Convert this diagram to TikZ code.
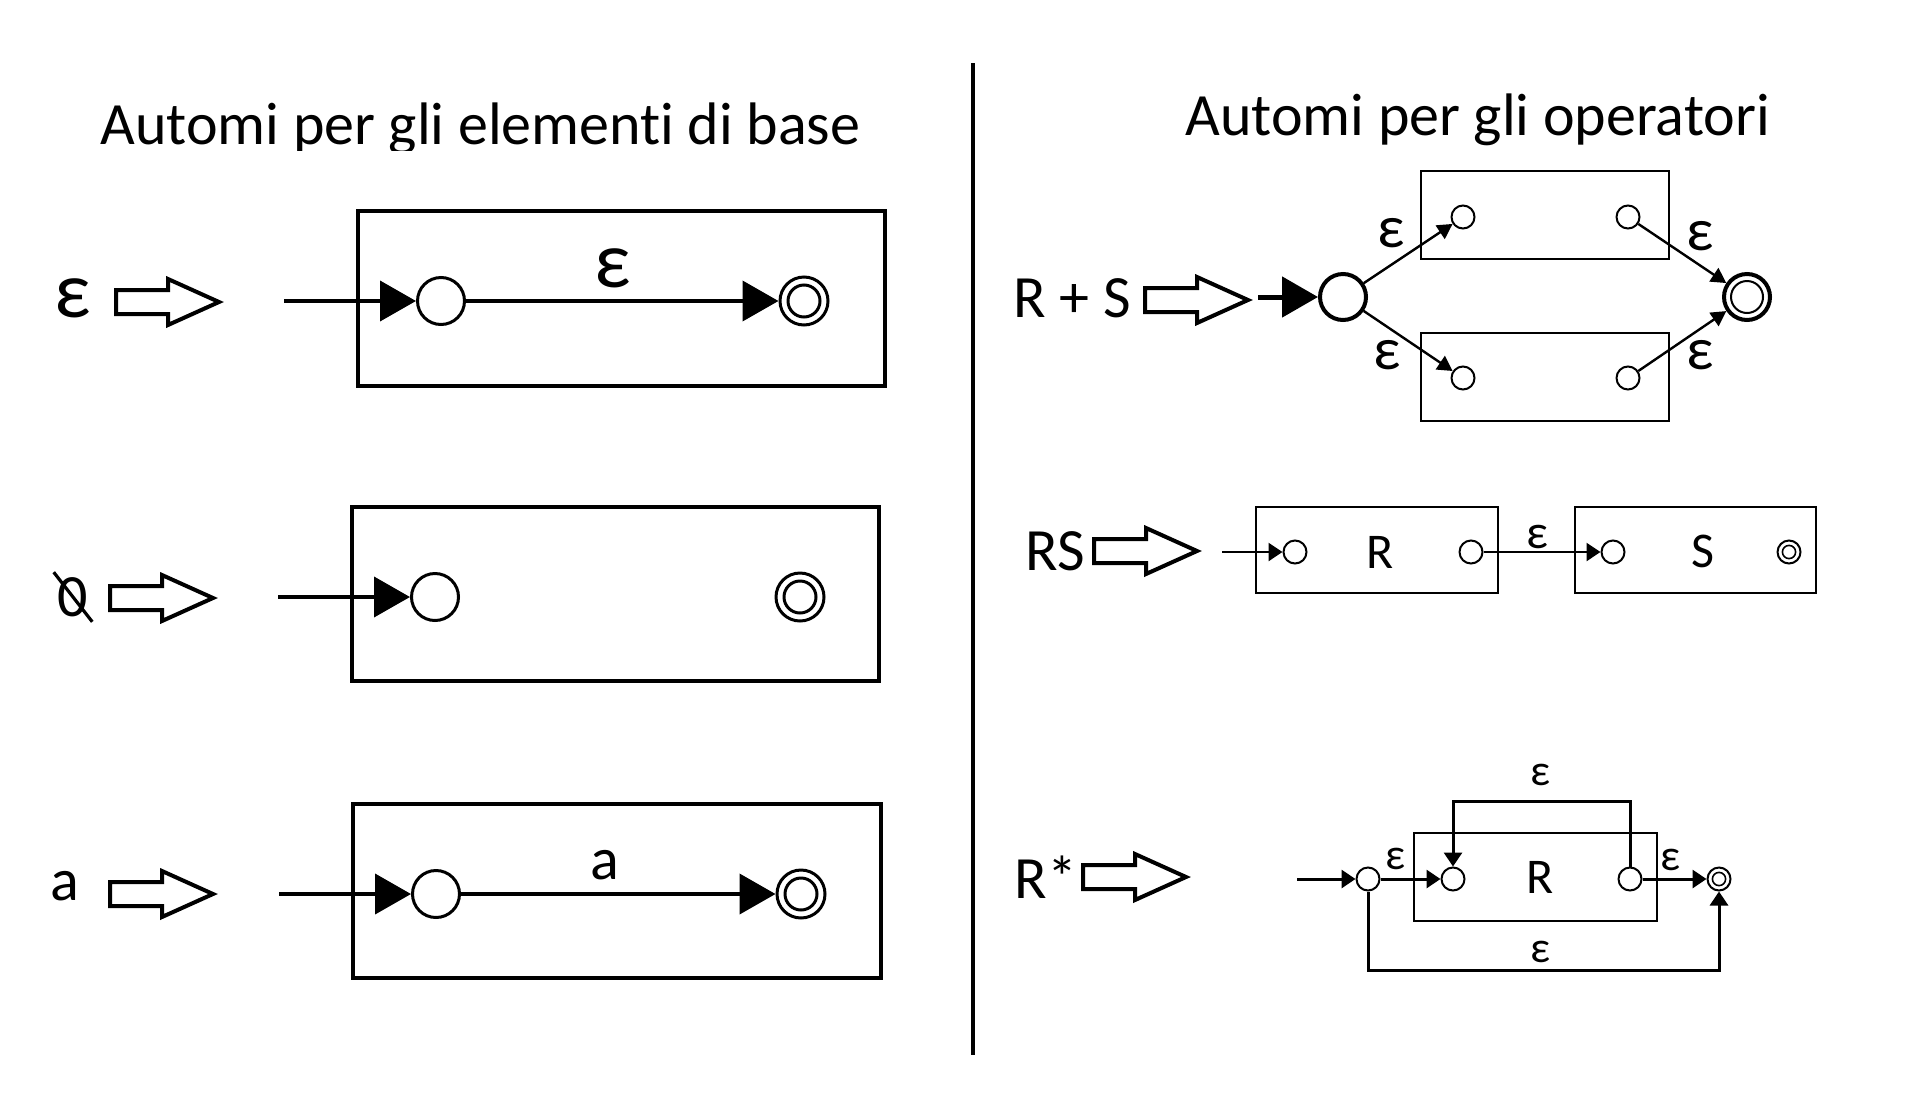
\documentclass[tikz,border=0pt]{standalone}
\usepackage{fontspec}
\setmainfont{Carlito}[Ligatures={NoCommon}]
\usetikzlibrary{arrows.meta}

\tikzset{
  lbl/.style={inner sep=0pt, font=\fontsize{30pt}{36pt}\selectfont},
  epsbig/.style={inner sep=0pt, font=\fontsize{40pt}{48pt}\selectfont},
  epsmid/.style={inner sep=0pt, font=\fontsize{30pt}{36pt}\selectfont},
  epssmall/.style={inner sep=0pt, font=\fontsize{22pt}{26pt}\selectfont},
  inbox/.style={inner sep=0pt, font=\fontsize{25pt}{30pt}\selectfont},
  bigstate/.style={circle, draw, line width=1.5pt, minimum size=23.5pt, inner sep=0pt},
  bigfinal/.style={bigstate, minimum size=24pt,
    path picture={\draw[line width=1.5pt] (path picture bounding box.center) circle (8pt);}},
  smallstate/.style={circle, draw, line width=1pt, minimum size=11.5pt, inner sep=0pt},
  smallfinal/.style={smallstate,
    path picture={\draw[line width=0.8pt] (path picture bounding box.center) circle (3.3pt);}},
  hollow/.style={draw, line width=2pt, line join=miter},
  frame/.style={draw, line width=2pt},
  thinframe/.style={draw, line width=1pt},
  bigarr/.style={line width=2pt, -{Triangle[length=18pt, width=20pt]}},
  midarr/.style={line width=1.2pt, -{Triangle[length=7.5pt, width=8pt]}},
  smallarr/.style={line width=1.5pt, -{Triangle[length=7pt, width=9pt]}}
}

\begin{document}
\begin{tikzpicture}[x=0.5pt, y=-0.5pt]
\useasboundingbox (0,0) rectangle (1910,1098);

% titles
\begin{scope}
  \clip (0,0) rectangle (960,150);
  \node[lbl, anchor=base west] (titleL) at (100,144) {Automi per gli elementi di base};
\end{scope}
\node[lbl, anchor=base west] (titleR) at (1185,135) {Automi per gli operatori};
\draw[line width=2pt] (973,63) -- (973,1055);

% hollow arrows
\foreach \x/\y in {116/302, 110/598, 110/894, 1145/300, 1094/551, 1083/877}
  \draw[hollow, shift={(\x,\y)}] (0,-12) -- (52,-12) -- (52,-23) -- (103,0)
    -- (52,23) -- (52,12) -- (0,12) -- cycle;

% epsilon
\node[epsbig] (lEps) at (73,298) {ε};
\draw[frame] (358,211) rectangle (885,386);
\coordinate (in1) at (284,301);
\node[bigstate] (p1) at (441,301) {};
\node[bigfinal] (f1) at (804,301) {};
\draw[bigarr] (in1) -- (p1);
\draw[bigarr] (p1) -- (f1);
\node[epsbig] (eps1) at (613,268) {ε};

% empty set
\node[lbl] (lEmpty) at (73,597) {0};
\draw[line width=1.6pt, shorten <=-3pt, shorten >=-3pt] (lEmpty.north west) -- (lEmpty.south east);
\draw[frame] (352,507) rectangle (879,681);
\coordinate (in2) at (278,597);
\node[bigstate] (p2) at (435,597) {};
\node[bigfinal] (f2) at (800,597) {};
\draw[bigarr] (in2) -- (p2);

% symbol a
\node[lbl] (lA) at (65,886) {a};
\draw[frame] (353,804) rectangle (881,978);
\coordinate (in3) at (279,894);
\node[bigstate] (p3) at (436,894) {};
\node[bigfinal] (f3) at (801,894) {};
\draw[bigarr] (in3) -- (p3);
\draw[bigarr] (p3) -- (f3);
\node[lbl] (symA) at (605,865) {a};

% R + S
\node[lbl] (lSum) at (1072,298) {R + S};
\coordinate (in4) at (1258,297);
\node[bigstate, line width=2pt, minimum size=23pt] (u0) at (1343,297) {};
\node[bigfinal, line width=2pt, minimum size=23pt,
  path picture={\draw[line width=1pt] (path picture bounding box.center) circle (8pt);}] (uf) at (1747,297) {};
\draw[thinframe] (1421,171) rectangle (1669,259);
\draw[thinframe] (1421,333) rectangle (1669,421);
\node[smallstate] (r1) at (1463,217) {};
\node[smallstate] (r2) at (1628,217) {};
\node[smallstate] (s1) at (1463,378) {};
\node[smallstate] (s2) at (1628,378) {};
\draw[bigarr, line width=2.5pt] (in4) -- (u0);
\draw[midarr] (u0) -- (r1);
\draw[midarr] (u0) -- (s1);
\draw[midarr] (r2) -- (uf);
\draw[midarr] (s2) -- (uf);
\node[epsmid] (eR1) at (1391,233) {ε};
\node[epsmid] (eS1) at (1387,355) {ε};
\node[epsmid] (eR2) at (1700,236) {ε};
\node[epsmid] (eS2) at (1700,355) {ε};

% RS
\node[lbl] (lCat) at (1055,551) {RS};
\draw[thinframe] (1256,507) rectangle (1498,593);
\draw[thinframe] (1575,507) rectangle (1816,593);
\coordinate (in5) at (1222,552);
\node[smallstate] (c1) at (1295,552) {};
\node[smallstate] (c2) at (1471,552) {};
\node[smallstate] (c3) at (1613,552) {};
\node[smallfinal] (cf) at (1789,552) {};
\node[inbox] (cR) at (1380,552) {R};
\node[inbox] (cS) at (1703,551) {S};
\draw[smallarr, line width=1.2pt] (in5) -- (c1);
\draw[smallarr, line width=1.2pt] (c2) -- (c3);
\node[epssmall, font=\fontsize{24pt}{28pt}\selectfont] (eCat) at (1537,537) {ε};

% R*
\node[lbl] (lStar) at (1046,877) {R*};
\draw[thinframe] (1414,833) rectangle (1657,921);
\coordinate (in6) at (1297,879);
\node[smallstate] (q0) at (1368,879) {};
\node[smallstate] (q1) at (1453,879) {};
\node[smallstate] (q2) at (1630,879) {};
\node[smallfinal] (qf) at (1719,879) {};
\node[inbox] (qR) at (1540,877) {R};
\coordinate (loopTop) at (1540,801);
\coordinate (loopBot) at (1540,970);
\draw[smallarr] (in6) -- (q0);
\draw[smallarr] (q0) -- (q1);
\draw[smallarr] (q2) -- (qf);
\draw[smallarr] (q2.north) |- (loopTop) -| (q1.north);
\draw[smallarr] (q0.south) |- (loopBot) -| (qf.south);
\node[epssmall] (eIn) at (1396,859) {ε};
\node[epssmall] (eOut) at (1670,860) {ε};
\node[epssmall] (eTop) at (1540,775) {ε};
\node[epssmall] (eBot) at (1540,952) {ε};
\end{tikzpicture}
\end{document}
